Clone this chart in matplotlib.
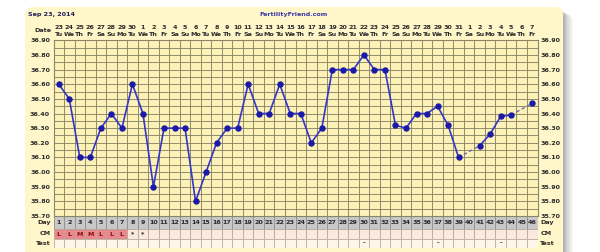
import numpy as np
import matplotlib
matplotlib.use("Agg")
import matplotlib.pyplot as plt
from matplotlib.patches import FancyBboxPatch

# ---------------- data ----------------
days = list(range(1, 47))
date_nums = [23, 24, 25, 26, 27, 28, 29, 30,
             1, 2, 3, 4, 5, 6, 7, 8, 9, 10, 11, 12, 13, 14, 15, 16, 17, 18, 19,
             20, 21, 22, 23, 24, 25, 26, 27, 28, 29, 30, 31,
             1, 2, 3, 4, 5, 6, 7]
weekdays = ["Tu", "We", "Th", "Fr", "Sa", "Su", "Mo"] * 6 + ["Tu", "We", "Th", "Fr"]
temps = [36.60, 36.50, 36.10, 36.10, 36.30, 36.40, 36.30, 36.60, 36.40, 35.90,
         36.30, 36.30, 36.30, 35.80, 36.00, 36.20, 36.30, 36.30, 36.60, 36.40,
         36.40, 36.60, 36.40, 36.40, 36.20, 36.30, 36.70, 36.70, 36.70, 36.80,
         36.70, 36.70, 36.32, 36.30, 36.40, 36.40, 36.45, 36.32, 36.10, np.nan,
         36.18, 36.26, 36.38, 36.39, np.nan, 36.47]
cm_labels = ["L", "L", "M", "M", "L", "L", "L", "*", "*"] + [""] * 37
test_labels = [""] * 46
for d in (30, 37, 43):
    test_labels[d - 1] = "-"
ytick_vals = [35.70, 35.80, 35.90, 36.00, 36.10, 36.20, 36.30, 36.40,
              36.50, 36.60, 36.70, 36.80, 36.90]
chart_date = "Sep 23, 2014"
site = "FertilityFriend.com"

# ---------------- style ----------------
W, H = 600, 252
panel_col = "#FFF7C9"
plot_col = "#FCF2B8"
grid_col = "#8A8468"
line_col = "#3535C8"
mark_col = "#1A1AA8"
txt_col = "#2A2A2A"
FS = 4.6
font = dict(family="DejaVu Sans", fontweight="bold", fontsize=FS)

fig = plt.figure(figsize=(W / 100, H / 100), dpi=100)
fig.patch.set_facecolor("white")

# background panel in pixel coordinates
bg = fig.add_axes([0, 0, 1, 1], zorder=0)
bg.set_xlim(0, W)
bg.set_ylim(H, 0)
bg.axis("off")
for i, a in enumerate([0.10, 0.08, 0.06, 0.05, 0.04]):
    bg.add_patch(FancyBboxPatch((25 + 2 + i * 2, 10 + i), 538, 260,
                                boxstyle="round,pad=0,rounding_size=8",
                                fc="#000000", ec="none", alpha=a))
bg.add_patch(FancyBboxPatch((25, 7), 538, 260,
                            boxstyle="round,pad=0,rounding_size=8",
                            fc=panel_col, ec="none"))
bg.text(28, 14.5, chart_date, ha="left", va="center", color="#1E1E5A", **font)
bg.text(294, 14.5, site, ha="center", va="center", color="#3A3AA8", **font)

L, R = 53.5, 537.5
top_plot, bot_plot = 40.3, 216.0
def fbox(x0, x1, y0, y1):
    return [x0 / W, 1 - y1 / H, (x1 - x0) / W, (y1 - y0) / H]

# ---------------- main temperature axes ----------------
ax = fig.add_axes(fbox(L, R, top_plot, bot_plot), zorder=2)
ax.set_facecolor(plot_col)
ax.set_xlim(0.5, 46.5)
ax.set_ylim(35.70, 36.90)
for xb in np.arange(0.5, 47, 1):
    ax.axvline(xb, color=grid_col, lw=0.65, zorder=1)
for yb in np.arange(35.70, 36.91, 0.05):
    ax.axhline(yb, color=grid_col, lw=0.65, zorder=1)
ax.set_xticks([])
ax.set_yticks(ytick_vals)
ax.set_yticklabels(["%.2f" % v for v in ytick_vals], color=txt_col, **font)
ax.tick_params(axis="y", length=0, pad=2.5, labelleft=True, labelright=True)
for s in ax.spines.values():
    s.set_color(grid_col)
    s.set_linewidth(0.8)

t = np.array(temps, dtype=float)
d = np.array(days)
valid = ~np.isnan(t)
vd, vt = d[valid], t[valid]
# dashed connectors across missing days
for i in range(len(vd) - 1):
    if vd[i + 1] - vd[i] > 1:
        ax.plot([vd[i], vd[i + 1]], [vt[i], vt[i + 1]], ls=(0, (2.5, 1.8)),
                color="#7A68A8", lw=1.0, zorder=3)
ax.plot(d, t, color=line_col, lw=1.2, zorder=4)
ax.plot(vd, vt, ls="none", marker="o", ms=3.6, color=mark_col,
        mec=mark_col, zorder=5)

# ---------------- header rows ----------------
axh = fig.add_axes(fbox(L, R, 20.3, top_plot), zorder=1)
axh.set_xlim(0.5, 46.5)
axh.set_ylim(top_plot, 20.3)
axh.axis("off")
for dd, n, wd in zip(days, date_nums, weekdays):
    axh.text(dd, 27.2, str(n), ha="center", va="center", color=txt_col, **font)
    axh.text(dd, 34.0, wd, ha="center", va="center", color=txt_col, **font)
axh.text(0.27, 30.5, "Date", ha="right", va="center", color=txt_col, **font)

# ---------------- bottom rows (Day / CM / Test) ----------------
axr = fig.add_axes(fbox(L, R, bot_plot, 247.5), zorder=1)
axr.set_xlim(0.5, 46.5)
axr.set_ylim(247.5, bot_plot)
axr.axis("off")
rows = [("Day", 216.0, 229.3), ("CM", 229.3, 238.6), ("Test", 238.6, 247.5)]
cm_cols = ["#E8878C" if (lab and lab != "*") else "#FBE9DF" for lab in cm_labels]
axr.bar(days, 229.3 - 216.0, bottom=216.0, width=1.0, color="#C8C8C8",
        edgecolor="#8E8E8E", linewidth=0.6)
axr.bar(days, 238.6 - 229.3, bottom=229.3, width=1.0, color=cm_cols,
        edgecolor="#B8A8A0", linewidth=0.6)
axr.bar(days, 247.5 - 238.6, bottom=238.6, width=1.0, color="#FEF6E8",
        edgecolor="#B8B0A0", linewidth=0.6)
for dd in days:
    axr.text(dd, 222.8, str(dd), ha="center", va="center", color=txt_col, **font)
    lab = cm_labels[dd - 1]
    if lab:
        axr.text(dd, 234.0, lab, ha="center", va="center",
                 color="#8A1010" if lab != "*" else txt_col, **font)
    tl = test_labels[dd - 1]
    if tl:
        axr.text(dd, 243.0, tl, ha="center", va="center", color=txt_col, **font)
for name, y0, y1 in rows:
    yc = (y0 + y1) / 2
    axr.text(0.27, yc, name, ha="right", va="center", color=txt_col, **font)
    axr.text(46.75, yc, name, ha="left", va="center", color=txt_col, **font)

fig.savefig("out.png", dpi=100, facecolor="white")
